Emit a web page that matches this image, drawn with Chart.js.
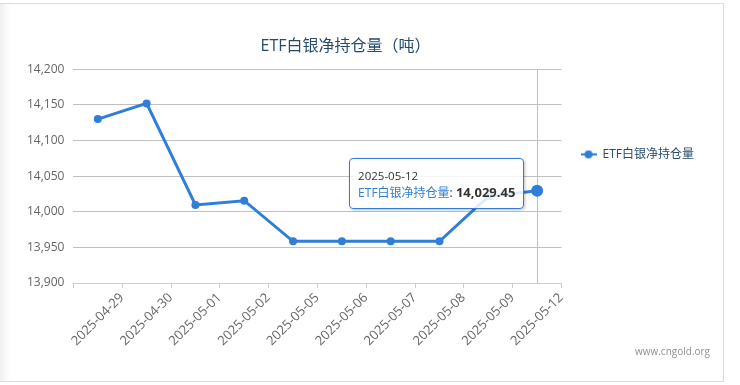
<!DOCTYPE html>
<html>
<head>
<meta charset="utf-8">
<script src="https://cdn.jsdelivr.net/npm/chart.js@4/dist/chart.umd.min.js"></script>
<style>
  html, body { margin: 0; padding: 0; background: #fff; }
  body { width: 740px; height: 385px; overflow: hidden; position: relative;
         font-family: 'Open Sans', 'Noto Sans CJK SC', sans-serif; }
  #frame { position: absolute; left: 0; top: 3px; width: 724px; height: 379px;
           border-top: 1px solid #dcdcdc; border-right: 1px solid #dcdcdc; border-bottom: 1px solid #dcdcdc;
           box-sizing: border-box;
           background: linear-gradient(to right, #efefef 0px, #fafafa 6px, #fff 11px); }
  #wrap { position: absolute; left: 0; top: 0; width: 740px; height: 385px; }
  #tip { position: absolute; display: none; background: rgba(255,255,255,0.85);
         border: 1px solid #2f7ed8; border-radius: 4px; padding: 9px 8px 7px 8px;
         box-shadow: 1px 1px 3px rgba(0,0,0,0.25); white-space: nowrap; pointer-events: none;
         font-size: 12px; color: #333; line-height: 16px; }
  #tip .hd { font-size: 11.5px; color: #333; }
  #tip .nm { color: #2f7ed8; }
  #tip b { font-weight: bold; font-size: 13px; }
  #credit { position: absolute; left: 635px; top: 344px; font-size: 10px; color: #909090; }
</style>
</head>
<body>
<div id="frame"></div>
<div id="wrap"><canvas id="etfChart" width="740" height="385"></canvas></div>
<div id="tip"></div>
<div id="credit">www.cngold.org</div>
<script>
const dates = ['2025-04-29', '2025-04-30', '2025-05-01', '2025-05-02', '2025-05-05',
               '2025-05-06', '2025-05-07', '2025-05-08', '2025-05-09', '2025-05-12'];
const holdings = [14130, 14152, 14009.5, 14015.5, 13958.5, 13958.5, 13958.5, 13958.5, 14021.5, 14029.45];
const seriesName = 'ETF白银净持仓量';
const chartTitle = 'ETF白银净持仓量（吨）';
const yMin = 13900;
const yMax = 14200;
const yStep = 50;

const FONT = "'Open Sans', 'Noto Sans CJK SC', sans-serif";
const BLUE = '#2f7ed8';

// legend marker: short line with a dot
const mark = document.createElement('canvas');
mark.width = 16; mark.height = 10;
const mctx = mark.getContext('2d');
mctx.strokeStyle = BLUE; mctx.lineWidth = 2;
mctx.beginPath(); mctx.moveTo(0, 5); mctx.lineTo(16, 5); mctx.stroke();
mctx.fillStyle = BLUE;
mctx.beginPath(); mctx.arc(8, 5, 4, 0, Math.PI * 2); mctx.fill();

const fmt = (v, d) => v.toLocaleString('en-US', {minimumFractionDigits: d, maximumFractionDigits: d});

const tipEl = document.getElementById('tip');
function externalTip(context) {
    const tt = context.tooltip;
    if (tt.opacity === 0 || !tt.dataPoints || !tt.dataPoints.length) { tipEl.style.display = 'none'; return; }
    const dp = tt.dataPoints[0];
    tipEl.innerHTML = '<div class="hd">' + dp.label + '</div>' +
        '<span class="nm">' + seriesName + '</span>: <b>' + fmt(dp.parsed.y, 2) + '</b>';
    tipEl.style.display = 'block';
    const w = tipEl.offsetWidth;
    tipEl.style.left = (dp.element.x - 13 - w) + 'px';
    tipEl.style.top = (dp.element.y - 33) + 'px';
}

const crosshair = {
    id: 'crosshair',
    afterLayout(chart) {
        // title centred as in the original
        const t = chart.titleBlock;
        t.left = 0; t.right = 691; t.width = 691;
    },
    beforeDatasetsDraw(chart) {
        const act = chart.getActiveElements();
        if (!act.length) return;
        const x = Math.round(act[0].element.x) + 0.5;
        const {top, bottom} = chart.chartArea;
        const ctx = chart.ctx;
        ctx.save();
        ctx.strokeStyle = '#c0c0c0'; ctx.lineWidth = 1;
        ctx.beginPath(); ctx.moveTo(x, top); ctx.lineTo(x, bottom); ctx.stroke();
        ctx.restore();
    }
};

const ctx = document.getElementById('etfChart').getContext('2d');
const chart = new Chart(ctx, {
    type: 'line',
    data: {
        labels: dates,
        datasets: [{
            label: seriesName,
            data: holdings,
            borderColor: BLUE,
            backgroundColor: BLUE,
            borderWidth: 3,
            pointRadius: 4,
            pointBorderWidth: 0,
            pointHoverRadius: 6,
            pointHoverBorderWidth: 0,
            pointBackgroundColor: BLUE,
            pointHoverBackgroundColor: BLUE,
            tension: 0
        }]
    },
    options: {
        responsive: false,
        animation: false,
        layout: { padding: { left: 18, right: 36, top: 0, bottom: 34 } },
        interaction: { mode: 'index', intersect: false },
        scales: {
            x: {
                offset: true,
                grid: { display: true, drawOnChartArea: false, offset: true, tickLength: 5, color: '#c0d0e0' },
                border: { color: '#c0d0e0' },
                ticks: {
                    minRotation: 45, maxRotation: 45, autoSkip: false,
                    labelOffset: 24, padding: 2,
                    color: '#666', font: { family: FONT, size: 13 }
                }
            },
            y: {
                min: yMin, max: yMax,
                grid: { color: '#c0c0c0', drawTicks: false },
                border: { display: false },
                ticks: {
                    stepSize: yStep, padding: 9,
                    color: '#666', font: { family: FONT, size: 12 },
                    callback: (v) => fmt(v, 0)
                }
            }
        },
        plugins: {
            title: {
                display: true, text: chartTitle,
                color: '#274b6d', font: { family: FONT, size: 16, weight: 'normal' },
                padding: { top: 37, bottom: 13 }
            },
            legend: {
                position: 'right', align: 'start',
                title: { display: true, text: ' ', padding: { top: 115, bottom: 0 } },
                labels: {
                    usePointStyle: true, pointStyleWidth: 16, padding: 19,
                    color: '#274b6d', font: { family: FONT, size: 12 },
                    generateLabels(c) {
                        const items = Chart.defaults.plugins.legend.labels.generateLabels(c);
                        items.forEach(it => { it.pointStyle = mark; });
                        return items;
                    }
                }
            },
            tooltip: { enabled: false, external: externalTip }
        }
    },
    plugins: [crosshair]
});

const last = holdings.length - 1;
const el = chart.getDatasetMeta(0).data[last];
chart.setActiveElements([{ datasetIndex: 0, index: last }]);
chart.tooltip.setActiveElements([{ datasetIndex: 0, index: last }], { x: el.x, y: el.y });
chart.update();
</script>
</body>
</html>
